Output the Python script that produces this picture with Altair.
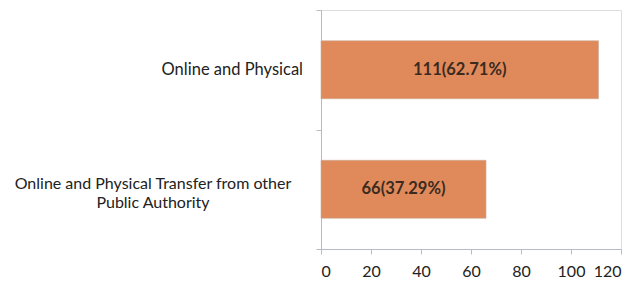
import altair as alt
import pandas as pd

categories = ["Online and Physical", "Online and Physical Transfer from other Public Authority"]
values = [111, 66]
bar_labels = ["111(62.71%)", "66(37.29%)"]
axis_labels = ["Online and Physical", "Online and Physical Transfer from other\nPublic Authority"]
x_ticks = [0, 20, 40, 60, 80, 100, 120]

df = pd.DataFrame({"cat": categories, "value": values, "lab": bar_labels, "ylab": axis_labels})

FONT = "Lato"
AXIS_COL = "#b4bccb"

y_enc = alt.Y(
    "cat:N",
    sort=categories,
    scale=alt.Scale(paddingInner=0, paddingOuter=0),
    axis=alt.Axis(labels=False, title=None, tickBand="extent", tickSize=5,
                  domainColor=AXIS_COL, tickColor=AXIS_COL),
)

base = alt.Chart(df)

bars = base.mark_bar(color="#e08a5c", stroke="#c9a996", strokeWidth=0.6,
                     height=alt.RelativeBandSize(0.485)).encode(
    x=alt.X("value:Q",
            scale=alt.Scale(domain=[0, 120], nice=False),
            axis=alt.Axis(values=x_ticks, grid=False, title=None, tickSize=5,
                          domainColor=AXIS_COL, tickColor=AXIS_COL,
                          labelFontSize=16, labelColor="#222222", labelFont=FONT,
                          labelPadding=9)),
    y=y_enc,
)

bar_text = base.transform_calculate(mid="datum.value / 2").mark_text(
    font=FONT, fontSize=16.5, fontWeight="bold", color="#3b2b1e"
).encode(x="mid:Q", y=alt.Y("cat:N", sort=categories), text="lab:N")

ylab1 = base.transform_filter(alt.datum.cat == categories[0]).mark_text(
    font=FONT, fontSize=16.5, color="#222222", align="right", baseline="middle"
).encode(x=alt.value(-18), y=alt.Y("cat:N", sort=categories), text="ylab:N")

ylab2 = base.transform_filter(alt.datum.cat == categories[1]).mark_text(
    font=FONT, fontSize=16, color="#222222", align="center", baseline="middle",
    lineBreak="\n", lineHeight=19, dy=-5
).encode(x=alt.value(-168), y=alt.Y("cat:N", sort=categories), text="ylab:N")

chart = alt.layer(bars, bar_text, ylab1, ylab2).properties(
    width=300, height=239,
    padding={"left": 313, "top": 2, "right": 6, "bottom": 34},
    autosize="none",
).configure_view(stroke=None).configure(font=FONT, background="white")

chart.save("out.html", embed_options={"renderer": "svg", "actions": False})
